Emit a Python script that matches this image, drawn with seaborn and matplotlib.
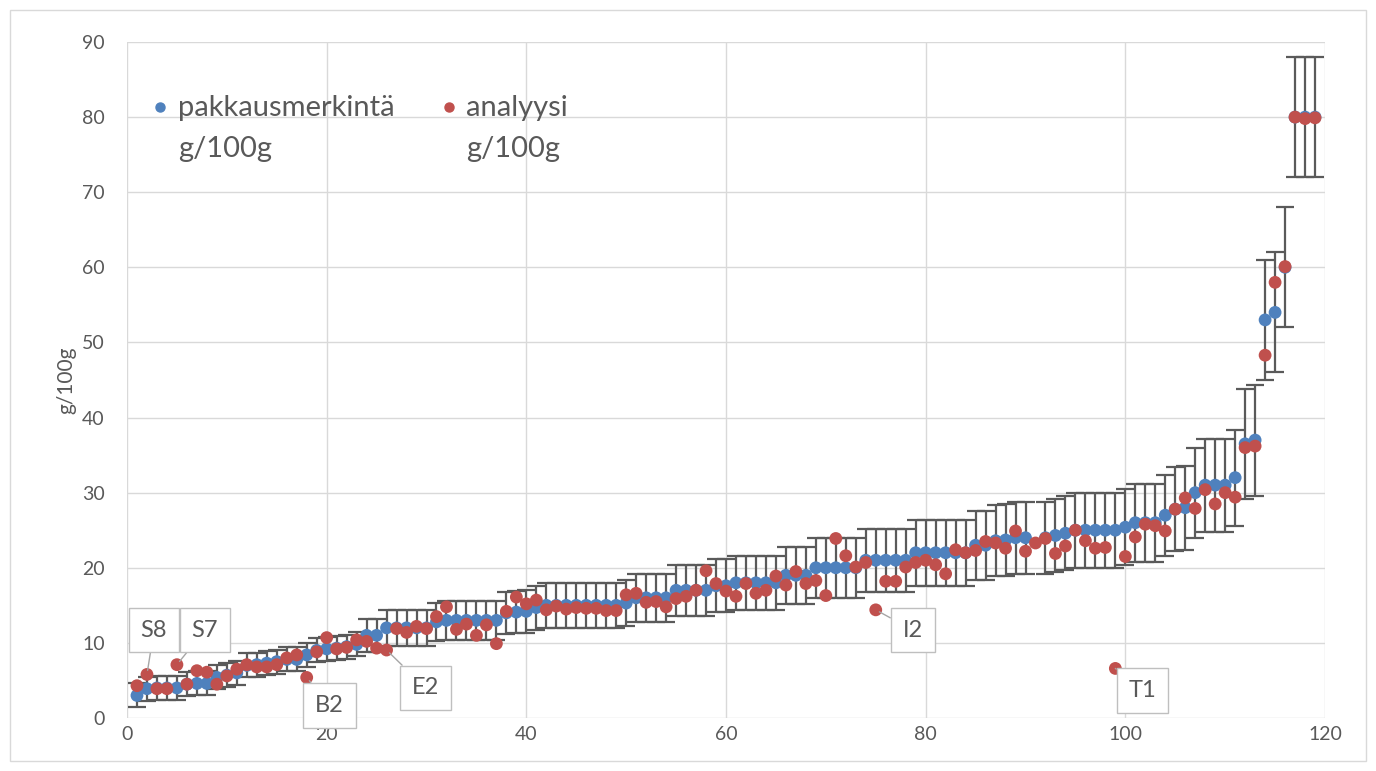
import numpy as np
import pandas as pd
import matplotlib
matplotlib.use("Agg")
import matplotlib.pyplot as plt
import seaborn as sns
from matplotlib.patches import Rectangle

# Product index (sorted by declared content)
sample = list(range(1, 120))

# Declared protein content on the package, g/100g (product 91 has no declared value)
declared = [
    3.0, 3.9, 4.0, 4.0, 4.0, 4.5, 4.6, 4.6, 5.4, 5.7,
    6.0, 7.0, 7.1, 7.3, 7.5, 7.8, 7.8, 8.4, 9.0, 9.2,
    9.3, 9.5, 9.8, 11.0, 11.0, 12.0, 12.0, 12.0, 12.0, 12.0,
    12.8, 13.0, 13.0, 13.0, 13.0, 13.0, 13.0, 14.0, 14.1, 14.2,
    14.7, 15.0, 15.0, 15.0, 15.0, 15.0, 15.0, 15.0, 15.0, 15.3,
    16.0, 16.0, 16.0, 16.0, 17.0, 17.0, 17.0, 17.0, 17.6, 17.6,
    18.0, 18.0, 18.0, 18.0, 18.0, 19.0, 19.0, 19.0, 20.0, 20.0,
    20.0, 20.0, 20.0, 21.0, 21.0, 21.0, 21.0, 21.0, 22.0, 22.0,
    22.0, 22.0, 22.0, 22.0, 23.0, 23.0, 23.6, 23.7, 24.0, 24.0,
    np.nan, 24.0, 24.3, 24.6, 25.0, 25.0, 25.0, 25.0, 25.0, 25.4,
    26.0, 26.0, 26.0, 27.0, 27.8, 28.0, 30.0, 31.0, 31.0, 31.0,
    32.0, 36.5, 37.0, 53.0, 54.0, 60.0, 80.0, 80.0, 80.0,
]

# Laboratory analysis result, g/100g
analysed = [
    4.3, 5.8, 3.9, 3.9, 7.1, 4.5, 6.3, 6.1, 4.5, 5.6,
    6.5, 7.1, 6.8, 6.8, 7.1, 8.0, 8.4, 5.4, 8.8, 10.7,
    9.2, 9.4, 10.4, 10.2, 9.3, 9.05, 11.9, 11.4, 12.2, 11.9,
    13.5, 14.8, 11.8, 12.5, 11.0, 12.4, 9.9, 14.2, 16.1, 15.2,
    15.7, 14.4, 14.9, 14.5, 14.7, 14.6, 14.6, 14.3, 14.3, 16.4,
    16.6, 15.4, 15.5, 14.8, 15.9, 16.2, 17.0, 19.6, 17.9, 16.9,
    16.2, 17.9, 16.6, 17.0, 18.9, 17.7, 19.5, 17.9, 18.3, 16.3,
    23.9, 21.6, 20.1, 20.7, 14.4, 18.2, 18.2, 20.1, 20.7, 21.0,
    20.4, 19.2, 22.4, 22.0, 22.3, 23.5, 23.3, 22.6, 24.9, 22.2,
    23.3, 23.9, 21.9, 22.9, 25.0, 23.6, 22.6, 22.7, 6.6, 21.5,
    24.1, 25.8, 25.6, 24.9, 27.8, 29.3, 27.9, 30.4, 28.5, 30.0,
    29.4, 36.0, 36.2, 48.3, 58.0, 60.1, 80.0, 79.8, 79.9,
]

# Products called out by name
callout_ids = ["S8", "S7", "B2", "E2", "I2", "T1"]
callout_sample = [2, 5, 18, 26, 75, 99]
callout_text_pos = [(2.7, 11.7), (7.8, 11.7), (20.3, 1.7), (29.9, 4.0), (78.7, 11.7), (101.7, 3.7)]

legend_labels = ["pakkausmerkintä\ng/100g", "analyysi\ng/100g"]
blue, red = "#4F81BD", "#C0504D"
text_grey = "#595959"


def tolerance(v):
    """Allowed deviation from the declared value, g/100g."""
    if v < 10:
        return 1.6
    if v <= 40:
        return 0.2 * v
    return 8.0


sns.set_theme(style="whitegrid")
plt.rcParams["font.family"] = ["Lato", "DejaVu Sans"]

fig = plt.figure(figsize=(13.76, 7.71), dpi=100)
ax = fig.add_axes([127 / 1376, 1 - 718 / 771, 1198 / 1376, 676 / 771])
fig.patches.append(Rectangle((10 / 1376, 10 / 771), 1356 / 1376, 751 / 771,
                             transform=fig.transFigure, fill=False,
                             ec="#d9d9d9", lw=1.0))

df = pd.DataFrame({"sample": sample, "declared": declared, "analysed": analysed})
df_d = df.dropna(subset=["declared"])
err = [tolerance(v) for v in df_d["declared"]]

ax.errorbar(df_d["sample"], df_d["declared"], yerr=err, fmt="none",
            ecolor="#5a5a5a", elinewidth=1.6, capsize=6.2, capthick=1.6, zorder=2)
sns.scatterplot(data=df_d, x="sample", y="declared", color=blue, s=85,
                edgecolor="none", linewidth=0, ax=ax, zorder=3)
sns.scatterplot(data=df, x="sample", y="analysed", color=red, s=85,
                edgecolor="none", linewidth=0, ax=ax, zorder=4)

# Callouts for the outlying products
for name, sid, (tx, ty) in zip(callout_ids, callout_sample, callout_text_pos):
    yv = analysed[sample.index(sid)]
    ax.annotate(name, xy=(sid, yv), xytext=(tx, ty), textcoords="data",
                ha="center", va="center", fontsize=17, color=text_grey,
                bbox=dict(boxstyle="square,pad=0.5", fc="white", ec="#bfbfbf", lw=1.0),
                arrowprops=dict(arrowstyle="-", color="#a6a6a6", lw=1.0,
                                shrinkA=0, shrinkB=3),
                zorder=6, annotation_clip=False)

ax.set_xlim(0, 120)
ax.set_ylim(0, 90)
ax.set_xticks(range(0, 121, 20))
ax.set_yticks(range(0, 91, 10))
ax.grid(True, color="#d9d9d9", lw=1.0)
for s in ax.spines.values():
    s.set_visible(False)
ax.tick_params(axis="both", labelsize=14, colors=text_grey, length=0)
ax.tick_params(axis="y", pad=16)
ax.tick_params(axis="x", pad=6)
ax.set_xlabel("")
ax.set_ylabel("g/100g", fontsize=15, color=text_grey, labelpad=4)

# Legend drawn inside the plot area
for (mx, tx), lab, col in zip([(0.0275, 0.0426), (0.269, 0.283)], legend_labels, [blue, red]):
    ax.plot([mx], [0.904], marker="o", ms=6.5, color=col, ls="none",
            transform=ax.transAxes, clip_on=False, zorder=7)
    ax.text(tx, 0.922, lab, transform=ax.transAxes, fontsize=21, color=text_grey,
            ha="left", va="top", linespacing=1.75, zorder=7)

fig.savefig("out.png", dpi=100, facecolor="white")
